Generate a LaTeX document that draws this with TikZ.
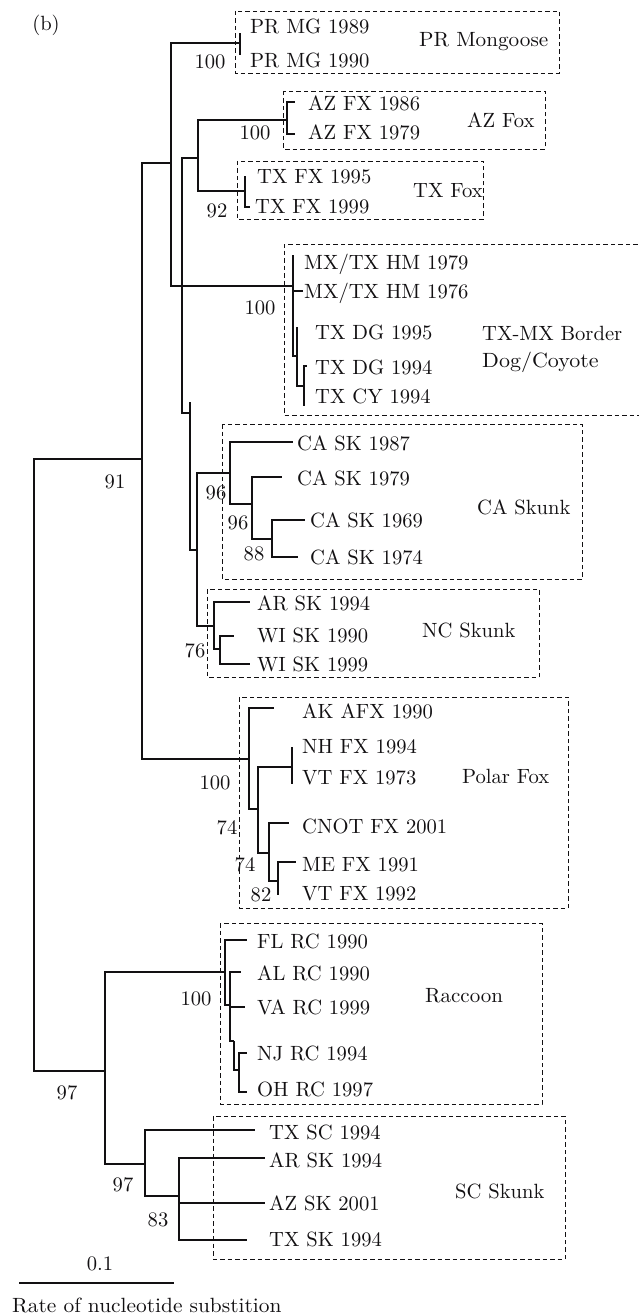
\documentclass[tikz,border=0pt]{standalone}
\definecolor{ink}{HTML}{121012}
\newcommand{\bigtxt}[1]{\scalebox{2.06}{#1}}
\newcommand{\widetxt}[2]{\scalebox{#1}[2.06]{#2}}
\tikzset{
  br/.style={draw=ink, line width=1.5pt},
  clbox/.style={draw=ink, line width=0.8pt, dash pattern=on 4.5pt off 3pt},
  lf/.style={anchor=base west, inner sep=0pt, text=ink},
  bs/.style={inner sep=0pt, text=ink},
}
\begin{document}
\begin{tikzpicture}[x=1pt,y=-1pt,font=\fontsize{10}{12}\selectfont]
\useasboundingbox (0,0) rectangle (638,1316);

% ---------- dashed clade boxes ----------
\draw[clbox] (235,11) rectangle (559,73);
\draw[clbox] (283,91) rectangle (545,149);
\draw[clbox] (237,161) rectangle (483,219);
\draw[clbox] (645,244) -| (284,415) -- (645,415);
\draw[clbox] (222,424) rectangle (582,579);
\draw[clbox] (207,589) rectangle (539,677);
\draw[clbox] (239,697) rectangle (568,908);
\draw[clbox] (220,923) rectangle (542,1104);
\draw[clbox] (213,1116) rectangle (565,1259);

% ---------- internal nodes ----------
\coordinate (root) at (34,765);
\coordinate (n142) at (142,459);
\coordinate (n105) at (105,1071);
\coordinate (n171) at (171,163);
\coordinate (pol)  at (249,759);
\coordinate (pr)   at (240,43);
\coordinate (mx)   at (293,286);
\coordinate (n182) at (182,286);
\coordinate (n198) at (198,158);
\coordinate (n190) at (190,413);
\coordinate (az)   at (287,120);
\coordinate (tx)   at (245,191);
\coordinate (n297) at (297,356);
\coordinate (n304) at (304,386);
\coordinate (n197) at (197,550);
\coordinate (ca)   at (230,473);
\coordinate (n252) at (252,504);
\coordinate (n272) at (272,539);
\coordinate (nc)   at (214,626);
\coordinate (n220) at (220,649);
\coordinate (n258) at (258,809);
\coordinate (n292) at (292,767);
\coordinate (n269) at (269,853);
\coordinate (n278) at (278,881);
\coordinate (rc)   at (225,972);
\coordinate (n230) at (230,1005);
\coordinate (n234) at (234,1041);
\coordinate (n239) at (239,1070);
\coordinate (sc)   at (145,1164);
\coordinate (n179) at (179,1196);

% ---------- tips ----------
\coordinate (tPR1) at (240,33);
\coordinate (tPR2) at (240,55);
\coordinate (tAZ1) at (295,102);
\coordinate (tAZ2) at (295,134);
\coordinate (tTX1) at (245,176);
\coordinate (tTX2) at (250,207);
\coordinate (tMX1) at (293,255);
\coordinate (tMX2) at (303,291);
\coordinate (tDG5) at (297,327);
\coordinate (tDG4) at (307,366);
\coordinate (tCY)  at (304,406);
\coordinate (t190) at (190,402);
\coordinate (tCA87) at (293,442);
\coordinate (tCA79) at (282,477);
\coordinate (tCA69) at (305,520);
\coordinate (tCA74) at (298,557);
\coordinate (tARa) at (250,602);
\coordinate (tWI90) at (234,636);
\coordinate (tWI99) at (250,664);
\coordinate (tAK)  at (274,708);
\coordinate (tNH)  at (292,747);
\coordinate (tVT73) at (292,784);
\coordinate (tCN)  at (289,823);
\coordinate (tME)  at (296,862);
\coordinate (tVT92) at (278,895);
\coordinate (tFL)  at (247,940);
\coordinate (tAL)  at (241,972);
\coordinate (tVA)  at (245,1007);
\coordinate (tNJ)  at (247,1053);
\coordinate (tOH)  at (247,1092);
\coordinate (tTXSC) at (255,1130);
\coordinate (tARSK) at (265,1158);
\coordinate (tAZSK) at (265,1203);
\coordinate (tTXSK) at (247,1240);

% ---------- branches ----------
\draw[br] (root) |- (n142);  \draw[br] (root) |- (n105);
\draw[br] (n142) |- (n171);  \draw[br] (n142) |- (pol);
\draw[br] (n171) |- (pr);    \draw[br] (n171) |- (mx);  \draw[br] (n171) |- (n182);
\draw[br] (n182) |- (n198);  \draw[br] (n182) |- (n190);
\draw[br] (n198) |- (az);    \draw[br] (n198) |- (tx);
\draw[br] (pr) |- (tPR1);    \draw[br] (pr) |- (tPR2);
\draw[br] (az) |- (tAZ1);    \draw[br] (az) |- (tAZ2);
\draw[br] (tx) |- (tTX1);    \draw[br] (tx) |- (tTX2);
\draw[br] (mx) |- (tMX1);    \draw[br] (mx) |- (tMX2);  \draw[br] (mx) |- (n297);
\draw[br] (n297) |- (tDG5);  \draw[br] (n297) |- (n304);
\draw[br] (n304) |- (tDG4);  \draw[br] (n304) |- (tCY);
\draw[br] (n190) |- (t190);  \draw[br] (n190) |- (n197);
\draw[br] (n197) |- (ca);    \draw[br] (n197) |- (nc);
\draw[br] (ca) |- (tCA87);   \draw[br] (ca) |- (n252);
\draw[br] (n252) |- (tCA79); \draw[br] (n252) |- (n272);
\draw[br] (n272) |- (tCA69); \draw[br] (n272) |- (tCA74);
\draw[br] (nc) |- (tARa);    \draw[br] (nc) |- (n220);
\draw[br] (n220) |- (tWI90); \draw[br] (n220) |- (tWI99);
\draw[br] (pol) |- (tAK);    \draw[br] (pol) |- (n258);
\draw[br] (n258) |- (n292);  \draw[br] (n258) |- (n269);
\draw[br] (n292) |- (tNH);   \draw[br] (n292) |- (tVT73);
\draw[br] (n269) |- (tCN);   \draw[br] (n269) |- (n278);
\draw[br] (n278) |- (tME);   \draw[br] (n278) |- (tVT92);
\draw[br] (n105) |- (rc);    \draw[br] (n105) |- (sc);
\draw[br] (rc) |- (tFL);     \draw[br] (rc) |- (n230);
\draw[br] (n230) |- (tAL);   \draw[br] (n230) |- (tVA);  \draw[br] (n230) |- (n234);
\draw[br] (n234) |- (n239);
\draw[br] (n239) |- (tNJ);   \draw[br] (n239) |- (tOH);
\draw[br] (sc) |- (tTXSC);   \draw[br] (sc) |- (n179);
\draw[br] (n179) |- (tARSK); \draw[br] (n179) |- (tAZSK); \draw[br] (n179) |- (tTXSK);

% ---------- leaf labels ----------
\node[lf] (lPR1) at (250,34) {\bigtxt{PR MG 1989}};
\node[lf] (lPR2) at (250,68) {\bigtxt{PR MG 1990}};
\node[lf] (lAZ1) at (308,111) {\bigtxt{AZ FX 1986}};
\node[lf] (lAZ2) at (308,140) {\bigtxt{AZ FX 1979}};
\node[lf] (lTX1) at (257,184) {\bigtxt{TX FX 1995}};
\node[lf] (lTX2) at (255,213) {\bigtxt{TX FX 1999}};
\node[lf] (lMX1) at (304,269) {\bigtxt{MX/TX HM 1979}};
\node[lf] (lMX2) at (304,298) {\bigtxt{MX/TX HM 1976}};
\node[lf] (lDG5) at (315,339) {\bigtxt{TX DG 1995}};
\node[lf] (lDG4) at (315,374) {\bigtxt{TX DG 1994}};
\node[lf] (lCY)  at (315,403) {\bigtxt{TX CY 1994}};
\node[lf] (lCA87) at (297,450) {\bigtxt{CA SK 1987}};
\node[lf] (lCA79) at (297,485) {\bigtxt{CA SK 1979}};
\node[lf] (lCA69) at (310,527) {\bigtxt{CA SK 1969}};
\node[lf] (lCA74) at (310,564) {\bigtxt{CA SK 1974}};
\node[lf] (lARa) at (257,610) {\bigtxt{AR SK 1994}};
\node[lf] (lWI90) at (257,642) {\bigtxt{WI SK 1990}};
\node[lf] (lWI99) at (257,671) {\bigtxt{WI SK 1999}};
\node[lf] (lAK)  at (302,718) {\bigtxt{AK AFX 1990}};
\node[lf] (lNH)  at (302,753) {\bigtxt{NH FX 1994}};
\node[lf] (lVT73) at (302,784) {\bigtxt{VT FX 1973}};
\node[lf] (lCN)  at (302,833) {\bigtxt{CNOT FX 2001}};
\node[lf] (lME)  at (302,871) {\bigtxt{ME FX 1991}};
\node[lf] (lVT92) at (302,900) {\bigtxt{VT FX 1992}};
\node[lf] (lFL)  at (257,948) {\bigtxt{FL RC 1990}};
\node[lf] (lAL)  at (257,980) {\bigtxt{AL RC 1990}};
\node[lf] (lVA)  at (257,1014) {\bigtxt{VA RC 1999}};
\node[lf] (lNJ)  at (257,1060) {\bigtxt{NJ RC 1994}};
\node[lf] (lOH)  at (257,1096) {\bigtxt{OH RC 1997}};
\node[lf] (lTXSC) at (269,1139) {\bigtxt{TX SC 1994}};
\node[lf] (lARSK) at (269,1167) {\bigtxt{AR SK 1994}};
\node[lf] (lAZSK) at (269,1210) {\bigtxt{AZ SK 2001}};
\node[lf] (lTXSK) at (269,1246) {\bigtxt{TX SK 1994}};

% ---------- clade names ----------
\node[lf] (cPR) at (419,47) {\widetxt{2.12}{PR Mongoose}};
\node[lf] (cAZ) at (467,128) {\bigtxt{AZ Fox}};
\node[lf] (cTX) at (413,197) {\bigtxt{TX Fox}};
\node[lf] (cMX1) at (482,340) {\bigtxt{TX-MX Border}};
\node[lf] (cMX2) at (482,367) {\widetxt{2.2}{Dog/Coyote}};
\node[lf] (cCA) at (477,514) {\bigtxt{CA Skunk}};
\node[lf] (cNC) at (422,637) {\bigtxt{NC Skunk}};
\node[lf] (cPF) at (462,783) {\bigtxt{Polar Fox}};
\node[lf] (cRC) at (425,1002) {\widetxt{2.1}{Raccoon}};
\node[lf] (cSC) at (455,1198) {\bigtxt{SC Skunk}};

% ---------- bootstrap values ----------
\node[bs] (b1)  at (210,62)  {\bigtxt{100}};
\node[bs] (b2)  at (255,133) {\bigtxt{100}};
\node[bs] (b3)  at (217,211) {\bigtxt{92}};
\node[bs] (b4)  at (260,308) {\bigtxt{100}};
\node[bs] (b5)  at (115,482) {\bigtxt{91}};
\node[bs] (b6)  at (216,493) {\bigtxt{96}};
\node[bs] (b7)  at (238,523) {\bigtxt{96}};
\node[bs] (b8)  at (254,554) {\bigtxt{88}};
\node[bs] (b9)  at (195,651) {\bigtxt{76}};
\node[bs] (b10) at (215,783) {\bigtxt{100}};
\node[bs] (b11) at (227,828) {\bigtxt{74}};
\node[bs] (b12) at (245,865) {\bigtxt{74}};
\node[bs] (b13) at (261,895) {\bigtxt{82}};
\node[bs] (b14) at (196,999) {\bigtxt{100}};
\node[bs] (b15) at (67,1093) {\bigtxt{97}};
\node[bs] (b16) at (123,1185) {\bigtxt{97}};
\node[bs] (b17) at (158,1220) {\bigtxt{83}};

% ---------- panel label and scale ----------
\node[bs] (panel) at (46,25) {\bigtxt{(b)}};
\coordinate (sL) at (19,1283);
\coordinate (sR) at (174,1283);
\draw[br, line width=1.3pt] (sL) -- (sR);
\node[bs] (sv) at (100,1264) {\bigtxt{0.1}};
\node[lf] (cap) at (12,1312) {\widetxt{2.14}{Rate of nucleotide substition}};
\end{tikzpicture}
\end{document}
